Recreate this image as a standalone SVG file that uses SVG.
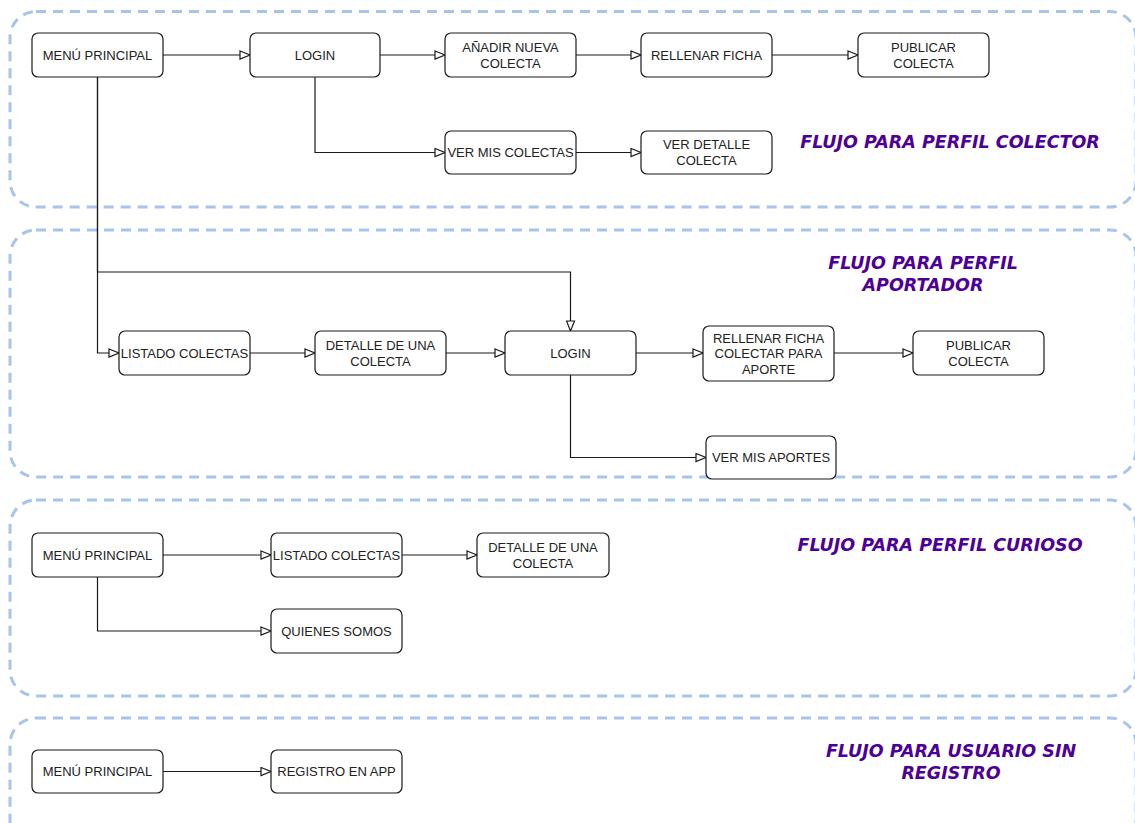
<svg xmlns="http://www.w3.org/2000/svg" width="1135" height="823" viewBox="0 0 1135 823">
<style>
.zone{fill:none;stroke:#a9c4eb;stroke-width:3;stroke-dasharray:10 7}
.node rect{fill:#fff;stroke:#1a1a1a;stroke-width:1.2}
.node text{font-family:"Liberation Sans",Arial,sans-serif;font-size:13px;fill:#222;text-anchor:middle}
.title{font-family:"DejaVu Sans",Verdana,sans-serif;font-size:17.5px;font-weight:bold;font-style:italic;fill:#4c0099;text-anchor:middle}
.edges path{fill:none;stroke:#1a1a1a;stroke-width:1.2}
</style>
<defs>
<marker id="arr" viewBox="0 0 12 10" refX="11" refY="5" markerWidth="12" markerHeight="10" markerUnits="userSpaceOnUse" orient="auto">
<path d="M1,1 L11,5 L1,9 Z" fill="#fff" stroke="#1a1a1a" stroke-width="1.2"/>
</marker>
</defs>
<rect width="1135" height="823" fill="#fff"/>
<g id="zones">
<rect class="zone" x="10" y="11.5" width="1126" height="195.5" rx="26"/>
<rect class="zone" x="10" y="230" width="1126" height="247" rx="26"/>
<rect class="zone" x="10" y="500" width="1126" height="196" rx="26"/>
<rect class="zone" x="10" y="718" width="1126" height="130" rx="26"/>
</g>
<g id="titles">
<text class="title" x="950" y="148">FLUJO PARA PERFIL COLECTOR</text>
<text class="title" x="923" y="269">FLUJO PARA PERFIL</text>
<text class="title" x="923" y="291">APORTADOR</text>
<text class="title" x="940" y="551">FLUJO PARA PERFIL CURIOSO</text>
<text class="title" x="951" y="757">FLUJO PARA USUARIO SIN</text>
<text class="title" x="951" y="779">REGISTRO</text>
</g>
<g class="edges" id="connectors">
<path d="M163,55 H250" marker-end="url(#arr)"/>
<path d="M380,55 H445" marker-end="url(#arr)"/>
<path d="M576,55 H641" marker-end="url(#arr)"/>
<path d="M772,55 H858" marker-end="url(#arr)"/>
<path d="M315,77 V152.5 H445" marker-end="url(#arr)"/>
<path d="M576,152.5 H641" marker-end="url(#arr)"/>
<path d="M97.5,77 V353 H119" marker-end="url(#arr)"/>
<path d="M97.5,77 V272 H570.5 V331" marker-end="url(#arr)"/>
<path d="M250,353 H315" marker-end="url(#arr)"/>
<path d="M446,353 H505" marker-end="url(#arr)"/>
<path d="M636,353 H703" marker-end="url(#arr)"/>
<path d="M834,353 H913" marker-end="url(#arr)"/>
<path d="M570.5,375 V457.5 H706" marker-end="url(#arr)"/>
<path d="M163,555 H271" marker-end="url(#arr)"/>
<path d="M402,555 H477" marker-end="url(#arr)"/>
<path d="M97.5,577 V631 H271" marker-end="url(#arr)"/>
<path d="M163,771.5 H271" marker-end="url(#arr)"/>
</g>
<g class="node" id="n-menu1"><rect x="32" y="33" width="131" height="44" rx="6"/><text x="97.5" y="59.6">MENÚ PRINCIPAL</text></g>
<g class="node" id="n-login1"><rect x="250" y="33" width="130" height="44" rx="6"/><text x="315" y="59.6">LOGIN</text></g>
<g class="node" id="n-anadir"><rect x="445" y="33" width="131" height="44" rx="6"/><text x="510.5" y="51.6">AÑADIR NUEVA</text><text x="510.5" y="67.6">COLECTA</text></g>
<g class="node" id="n-rellenar1"><rect x="641" y="33" width="131" height="44" rx="6"/><text x="706.5" y="59.6">RELLENAR FICHA</text></g>
<g class="node" id="n-publicar1"><rect x="858" y="33" width="131" height="44" rx="6"/><text x="923.5" y="51.6">PUBLICAR</text><text x="923.5" y="67.6">COLECTA</text></g>
<g class="node" id="n-vermiscolectas"><rect x="445" y="131" width="131" height="43" rx="6"/><text x="510.5" y="157.1">VER MIS COLECTAS</text></g>
<g class="node" id="n-verdetalle"><rect x="641" y="131" width="131" height="43" rx="6"/><text x="706.5" y="149.1">VER DETALLE</text><text x="706.5" y="165.1">COLECTA</text></g>
<g class="node" id="n-listado2"><rect x="119" y="331" width="131" height="44" rx="6"/><text x="184.5" y="357.6">LISTADO COLECTAS</text></g>
<g class="node" id="n-detalle2"><rect x="315" y="331" width="131" height="44" rx="6"/><text x="380.5" y="349.6">DETALLE DE UNA</text><text x="380.5" y="365.6">COLECTA</text></g>
<g class="node" id="n-login2"><rect x="505" y="331" width="131" height="44" rx="6"/><text x="570.5" y="357.6">LOGIN</text></g>
<g class="node" id="n-rellenar2"><rect x="703" y="326" width="131" height="55" rx="6"/><text x="768.5" y="342.6">RELLENAR FICHA</text><text x="768.5" y="358.1">COLECTAR PARA</text><text x="768.5" y="373.6">APORTE</text></g>
<g class="node" id="n-publicar2"><rect x="913" y="331" width="131" height="44" rx="6"/><text x="978.5" y="349.6">PUBLICAR</text><text x="978.5" y="365.6">COLECTA</text></g>
<g class="node" id="n-veraportes"><rect x="706" y="436" width="130" height="43" rx="6"/><text x="771" y="462.1">VER MIS APORTES</text></g>
<g class="node" id="n-menu3"><rect x="32" y="533" width="131" height="44" rx="6"/><text x="97.5" y="559.6">MENÚ PRINCIPAL</text></g>
<g class="node" id="n-listado3"><rect x="271" y="533" width="131" height="44" rx="6"/><text x="336.5" y="559.6">LISTADO COLECTAS</text></g>
<g class="node" id="n-detalle3"><rect x="477" y="533" width="132" height="44" rx="6"/><text x="543" y="551.6">DETALLE DE UNA</text><text x="543" y="567.6">COLECTA</text></g>
<g class="node" id="n-quienes"><rect x="271" y="609" width="131" height="44" rx="6"/><text x="336.5" y="635.6">QUIENES SOMOS</text></g>
<g class="node" id="n-menu4"><rect x="32" y="750" width="131" height="43" rx="6"/><text x="97.5" y="776.1">MENÚ PRINCIPAL</text></g>
<g class="node" id="n-registro"><rect x="271" y="750" width="131" height="43" rx="6"/><text x="336.5" y="776.1">REGISTRO EN APP</text></g>
</svg>
